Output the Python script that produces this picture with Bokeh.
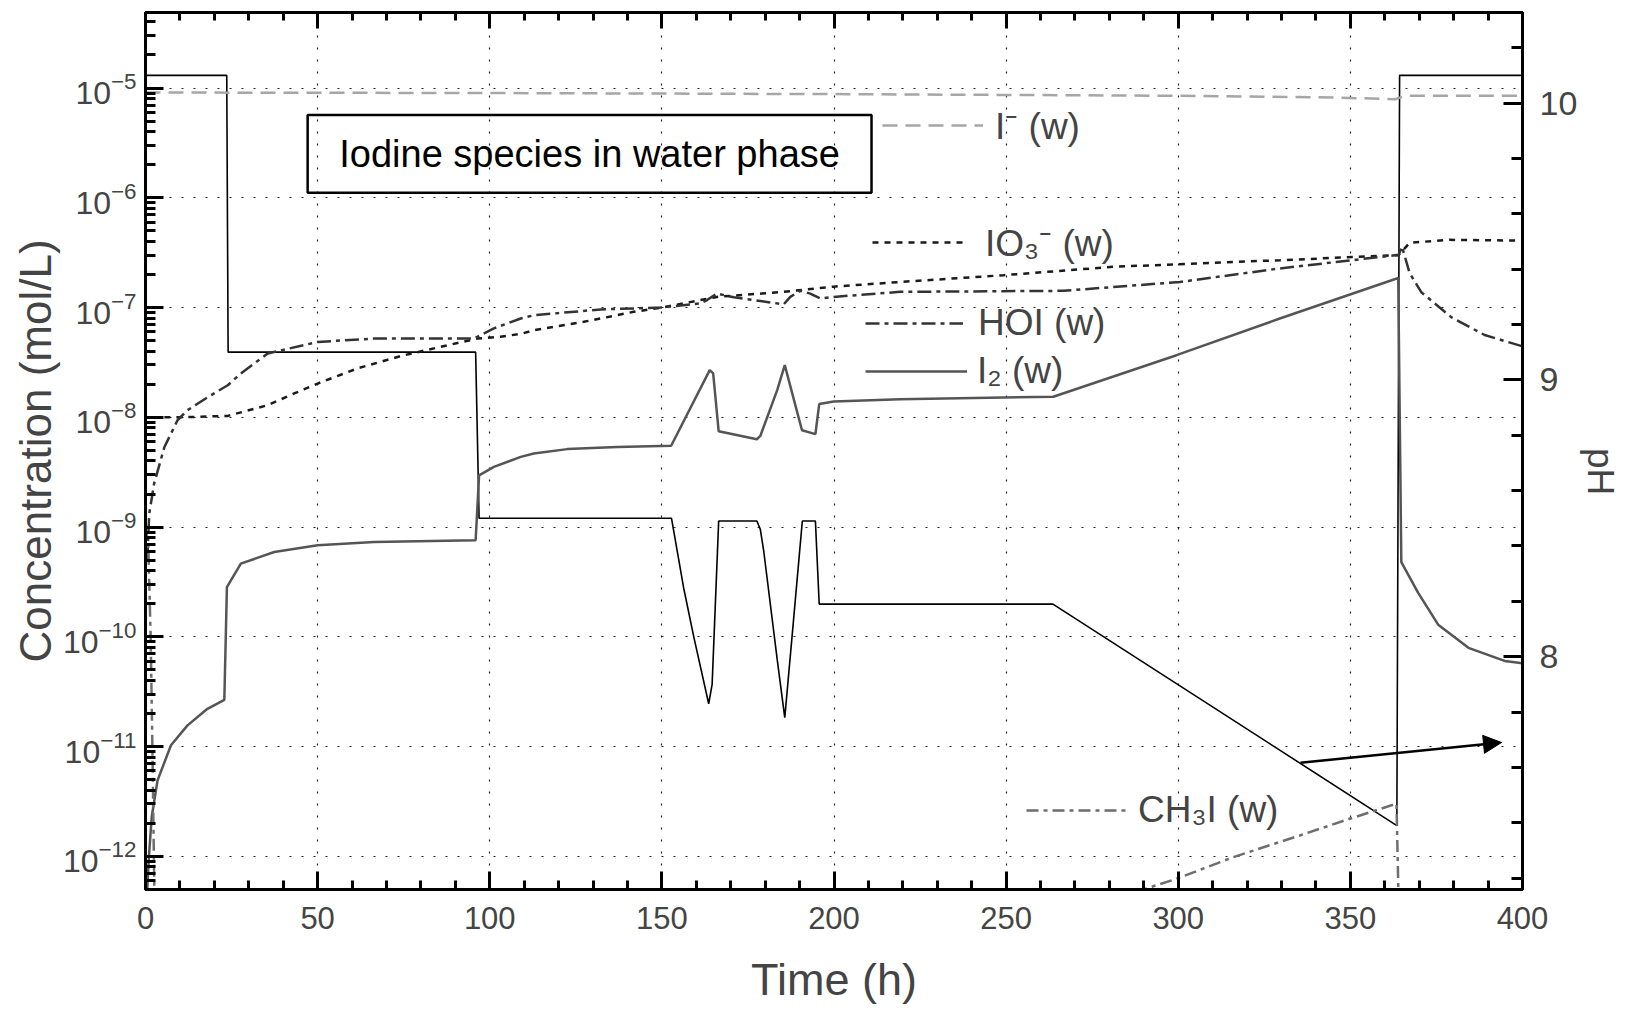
import math
from bokeh.plotting import figure
from bokeh.models import (Range1d, LinearAxis, LinearScale, FixedTicker, SingleIntervalTicker,
                          Legend, LegendItem, Arrow, NormalHead, Label, BoxAnnotation)
from bokeh.embed import file_html
from bokeh.resources import INLINE

nan = float("nan")

# ---------------- data ----------------
time_iodide = [0, 100, 200, 300, 345, 363, 366, 400]
conc_iodide = [9.1e-6, 9.0e-6, 8.8e-6, 8.5e-6, 8.2e-6, 7.9e-6, 8.5e-6, 8.5e-6]

time_iodate = [2.0, 10, 23.9, 35.5, 43.2, 50, 61.6, 74.1, 85.8, 96.4, 103.1, 109, 112.8,
               127.3, 141.8, 150, 166, 185.4, 199.9, 219.2, 249.2, 281.1, 329.5, 364.0,
               367.2, 378.8, 400]
conc_iodate = [1.0e-8, 1.0e-8, 1.03e-8, 1.29e-8, 1.65e-8, 2.03e-8, 2.79e-8, 3.61e-8, 4.39e-8,
               5.22e-8, 5.43e-8, 5.75e-8, 6.22e-8, 7.41e-8, 9.14e-8, 1.0e-7, 1.25e-7, 1.39e-7,
               1.55e-7, 1.71e-7, 1.97e-7, 2.35e-7, 2.70e-7, 3.0e-7, 3.89e-7, 4.14e-7, 4.07e-7]

time_hoi = [0.5, 1.1, 2.5, 5.5, 9.3, 12.2, 18, 23.9, 27.7, 35.5, 50, 66.4, 95.4, 101.2, 109,
            112.8, 132.2, 149.6, 161.2, 163.1, 166, 170.9, 185.4, 187.3, 190.2, 193.1, 196,
            199.9, 219.2, 266.6, 300.5, 329.5, 364.0, 365.0, 367.2, 370.6, 379.4, 389, 400]
conc_hoi = [5.0e-10, 1.33e-9, 2.49e-9, 5.37e-9, 9.40e-9, 1.16e-8, 1.52e-8, 1.96e-8, 2.51e-8,
            3.82e-8, 4.86e-8, 5.22e-8, 5.22e-8, 6.46e-8, 7.94e-8, 8.51e-8, 9.61e-8, 1.0e-7,
            1.09e-7, 1.17e-7, 1.34e-7, 1.24e-7, 1.07e-7, 1.25e-7, 1.42e-7, 1.34e-7, 1.21e-7,
            1.25e-7, 1.39e-7, 1.42e-7, 1.71e-7, 2.27e-7, 3.02e-7, 3.60e-7, 2.06e-7, 1.38e-7,
            8.13e-8, 5.62e-8, 4.43e-8]

time_i2 = [0.5, 1.0, 1.8, 3.5, 7.4, 12.2, 18.0, 22.9, 23.65, 27.7, 37.4, 50, 66.4, 95.9, 96.9,
           101.2, 109, 112.8, 122.5, 137, 152.7, 163.9, 164.9, 166.5, 177.6, 178.6, 183.5,
           185.7, 190.7, 194.6, 195.7, 199.9, 219.2, 263.7, 299.5, 329.5, 363.9, 364.8, 369.7,
           375.5, 384.3, 394.8, 400]
conc_i2 = [5.0e-13, 1.0e-12, 2.28e-12, 4.92e-12, 1.03e-11, 1.56e-11, 2.21e-11, 2.67e-11,
           2.84e-10, 4.65e-10, 5.93e-10, 6.82e-10, 7.31e-10, 7.59e-10, 2.96e-9, 3.53e-9,
           4.36e-9, 4.68e-9, 5.13e-9, 5.37e-9, 5.50e-9, 2.69e-8, 2.51e-8, 7.46e-9, 6.31e-9,
           6.76e-9, 1.77e-8, 2.99e-8, 7.62e-9, 7.02e-9, 1.32e-8, 1.39e-8, 1.46e-8, 1.54e-8,
           3.68e-8, 7.94e-8, 1.86e-7, 4.79e-10, 2.51e-10, 1.29e-10, 7.94e-11, 6.03e-11,
           5.75e-11]

time_ch3i = [0.0, 0.8, 1.5, 2.0, 2.6, nan, 280.4, 299.5, 316, 335.3, 349.8, 363.4, 364.0]
conc_ch3i = [1.0e-9, 7.0e-10, 1.0e-10, 1.0e-11, 4.0e-13, nan, 4.0e-13, 6.25e-13, 9.84e-13,
             1.55e-12, 2.20e-12, 3.02e-12, 4.0e-13]

time_ph = [0, 23.6, 24.0, 95.9, 96.9, 152.8, 156.3, 159.3, 163.6, 164.6, 166.5, 177.6, 178.6,
           179.6, 183.5, 185.7, 188.3, 190.8, 194.6, 195.7, 263.6, 363.5, 364.3, 400]
ph_values = [10.10, 10.10, 9.10, 9.10, 8.50, 8.50, 8.25, 8.07, 7.83, 7.90, 8.49, 8.49, 8.46,
             8.38, 7.99, 7.78, 8.14, 8.49, 8.49, 8.19, 8.19, 7.39, 10.10, 10.10]

conc_ticks = [1e-12, 1e-11, 1e-10, 1e-9, 1e-8, 1e-7, 1e-6, 1e-5]
time_grid = [50, 100, 150, 200, 250, 300, 350]

title_text = "Iodine species in water phase"
label_iodide = "I\u207b (w)"
label_iodate = "IO\u2083\u207b (w)"
label_hoi = "HOI (w)"
label_i2 = "I\u2082 (w)"
label_ch3i = "CH\u2083I (w)"

FONT = "Liberation Sans"

# ---------------- figure ----------------
p = figure(width=1645, height=1010, x_range=Range1d(0, 400),
           y_range=Range1d(10 ** -12.302, 10 ** -4.312), y_axis_type="log",
           output_backend="svg", toolbar_location=None,
           min_border_left=145, min_border_right=123, min_border_top=12, min_border_bottom=121)
p.background_fill_color = "white"
p.border_fill_color = "white"
p.outline_line_color = "black"
p.outline_line_width = 3

p.extra_y_ranges = {"ph": Range1d(7.159, 10.327)}
p.extra_y_scales = {"ph": LinearScale()}

# grids
p.xgrid.ticker = FixedTicker(ticks=time_grid)
p.ygrid.ticker = FixedTicker(ticks=conc_ticks)
for g in (p.xgrid[0], p.ygrid[0]):
    g.grid_line_color = "black"
    g.grid_line_dash = "2 10"
    g.grid_line_width = 1.2
    g.grid_line_alpha = 0.85

# bottom axis
xa = p.xaxis[0]
xa.ticker = SingleIntervalTicker(interval=50, num_minor_ticks=5)
xa.axis_label = "Time (h)"
xa.axis_line_width = 3
xa.major_tick_line_width = 3
xa.minor_tick_line_width = 3
xa.major_tick_in = 18
xa.major_tick_out = 0
xa.minor_tick_in = 9
xa.minor_tick_out = 0
xa.major_label_standoff = 17
xa.major_label_text_font = FONT
xa.major_label_text_font_size = "31px"
xa.axis_label_text_font = FONT
xa.axis_label_text_font_size = "45px"
xa.axis_label_text_font_style = "normal"
xa.axis_label_standoff = 22

# left log axis
ya = p.yaxis[0]
ya.ticker = FixedTicker(ticks=conc_ticks,
                        minor_ticks=[k * 10.0 ** e for e in range(-13, -4) for k in range(2, 10)])
ya.axis_label = "Concentration (mol/L)"
ya.axis_line_width = 3
ya.major_tick_line_width = 3
ya.minor_tick_line_width = 3
ya.major_tick_in = 18
ya.major_tick_out = 0
ya.minor_tick_in = 10
ya.minor_tick_out = 0
ya.major_label_standoff = 9
ya.major_label_text_font = FONT
ya.major_label_text_font_size = "32px"
ya.axis_label_text_font = FONT
ya.axis_label_text_font_size = "44px"
ya.axis_label_text_font_style = "normal"
ya.axis_label_standoff = 0

# top mirror axis (ticks only)
top = LinearAxis(ticker=SingleIntervalTicker(interval=50, num_minor_ticks=5))
top.axis_line_width = 3
top.major_tick_line_width = 3
top.minor_tick_line_width = 3
top.major_tick_in = 16
top.major_tick_out = 0
top.minor_tick_in = 8
top.minor_tick_out = 0
top.major_label_text_color = None
top.major_label_text_font_size = "1px"
top.major_label_standoff = 0
p.add_layout(top, "above")

# right pH axis
ra = LinearAxis(y_range_name="ph", ticker=SingleIntervalTicker(interval=1, num_minor_ticks=5),
                axis_label="\u00a0\u00a0\u00a0\u00a0pH")
ra.axis_line_width = 3
ra.major_tick_line_width = 3
ra.minor_tick_line_width = 3
ra.major_tick_in = 19
ra.major_tick_out = 0
ra.minor_tick_in = 11
ra.minor_tick_out = 0
ra.major_label_standoff = 17
ra.major_label_text_font = FONT
ra.major_label_text_font_size = "34px"
ra.axis_label_text_font = FONT
ra.axis_label_text_font_size = "37px"
ra.axis_label_text_font_style = "normal"
ra.axis_label_standoff = 0
p.add_layout(ra, "right")

# ---------------- series ----------------
r_ph = p.line(time_ph, ph_values, y_range_name="ph", line_color="black", line_width=1.6)
r_iodide = p.line(time_iodide, conc_iodide, line_color="#a6a6a6", line_width=2.5, line_dash="15 8")
r_iodate = p.line(time_iodate, conc_iodate, line_color="#1a1a1a", line_width=2.5, line_dash="6 6")
r_hoi = p.line(time_hoi, conc_hoi, line_color="#333333", line_width=2.5, line_dash="14 5 4 5")
r_i2 = p.line(time_i2, conc_i2, line_color="#555555", line_width=2.5)
r_ch3i = p.line(time_ch3i, conc_ch3i, line_color="#6e6e6e", line_width=2.5, line_dash="12 5 4 5")

# ---------------- legends placed next to the curves ----------------
def add_key(label, renderer, loc, glyph_width, standoff):
    lg = Legend(items=[LegendItem(label=label, renderers=[renderer])], location=loc,
                padding=0, margin=0, spacing=0, glyph_width=glyph_width, glyph_height=40,
                label_height=40, label_standoff=standoff,
                label_text_font=FONT, label_text_font_size="37px",
                background_fill_alpha=0, border_line_alpha=0)
    p.add_layout(lg)

add_key(label_iodide, r_iodide, (737, 739), 101, 12)
add_key(label_iodate, r_iodate, (727, 622), 95, 18)
add_key(label_hoi, r_hoi, (720, 545), 98, 15)
add_key(label_i2, r_i2, (720, 497), 102, 10)
add_key(label_ch3i, r_ch3i, (881, 58), 104, 8)

# ---------------- title box ----------------
p.add_layout(BoxAnnotation(left=47.1, right=210.9, top=5.67e-6, bottom=1.11e-6,
                           fill_alpha=0, line_color="black", line_alpha=1.0, line_width=2.5))
p.add_layout(Label(x=129.0, y=2.51e-6, text=title_text, text_align="center",
                   text_baseline="middle", text_font=FONT, text_font_size="38px",
                   text_color="black"))

# ---------------- arrow pointing to the pH axis ----------------
p.add_layout(Arrow(end=NormalHead(size=18, fill_color="black", line_color="black"),
                   x_start=335.5, y_start=10 ** -11.147, x_end=393.9, y_end=10 ** -10.963,
                   line_color="black", line_width=2.5))

open("out.html", "w").write(file_html(p, INLINE))
